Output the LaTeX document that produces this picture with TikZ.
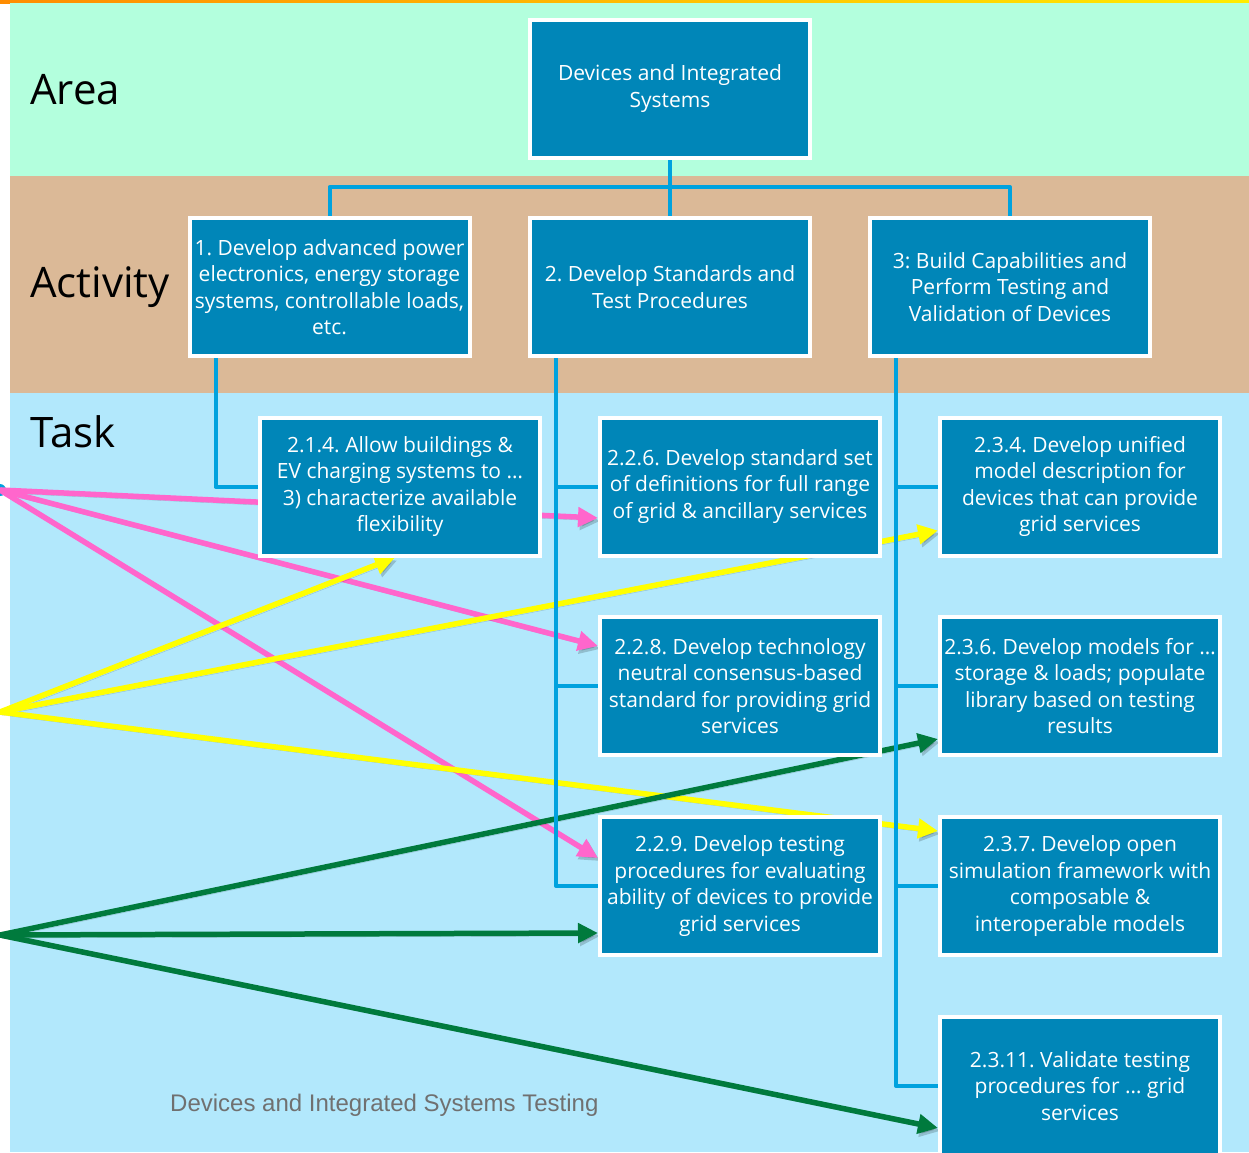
\documentclass[tikz,border=0pt]{standalone}
\usepackage{fontspec}
\setmainfont{Open Sans}
\newfontfamily\footfont{Liberation Sans}
\usetikzlibrary{arrows.meta,calc}
\frenchspacing
\pgfdeclarelayer{bglayer}
\pgfdeclarelayer{arrlayer}
\pgfdeclarelayer{connlayer}
\pgfsetlayers{bglayer,arrlayer,connlayer,main}
\definecolor{boxblue}{RGB}{0,134,184}
\definecolor{connblue}{RGB}{0,162,222}
\definecolor{areabg}{RGB}{179,255,221}
\definecolor{actbg}{RGB}{219,185,151}
\definecolor{taskbg}{RGB}{178,232,252}
\definecolor{pinkarr}{RGB}{255,102,204}
\definecolor{yelarr}{RGB}{255,255,0}
\definecolor{grnarr}{RGB}{0,122,61}
\definecolor{footgray}{RGB}{112,112,112}
\begin{document}
\begin{tikzpicture}[x=1pt,y=-1pt,
  box/.style={draw=white,line width=4pt,fill=boxblue,minimum width=280pt,minimum height=138pt,
    inner sep=0pt,text=white,align=center,font=\fontsize{21}{26.5}\selectfont},
  conn/.style={draw=connblue,line width=4pt,line join=round},
  arr/.style={line width=5.5pt,-{Triangle[length=20pt,width=19pt]},
    preaction={draw=black,opacity=.18,transform canvas={xshift=2pt,yshift=-3pt}}},
  band/.style={font=\fontsize{42}{50}\selectfont,anchor=west,inner sep=0pt}]
\useasboundingbox (0,0) rectangle (1249,1152);
\clip (0,0) rectangle (1249,1152);

% boxes
\node[box] (top) at (670,88.5) {Devices and Integrated\\Systems};
\node[box] (a1) at (329.5,287) {1. Develop advanced power\\electronics, energy storage\\systems, controllable loads,\\etc.};
\node[box] (a2) at (670,287) {2. Develop Standards and\\Test Procedures};
\node[box] (a3) at (1010,287) {3: Build Capabilities and\\Perform Testing and\\Validation of Devices};
\node[box] (t214) at (400,486.5) {2.1.4. Allow buildings \&\\EV charging systems to …\\3) characterize available\\flexibility};
\node[box] (t226) at (740,486.5) {2.2.6. Develop standard set\\of definitions for full range\\of grid \& ancillary services};
\node[box] (t234) at (1080,486.5) {2.3.4. Develop unified\\model description for\\devices that can provide\\grid services};
\node[box] (t228) at (740,686) {2.2.8. Develop technology\\neutral consensus-based\\standard for providing grid\\services};
\node[box] (t236) at (1080,686) {2.3.6. Develop models for …\\storage \& loads; populate\\library based on testing\\results};
\node[box] (t229) at (740,886) {2.2.9. Develop testing\\procedures for evaluating\\ability of devices to provide\\grid services};
\node[box] (t237) at (1080,886) {2.3.7. Develop open\\simulation framework with\\composable \&\\interoperable models};
\node[box] (t2311) at (1080,1086) {2.3.11. Validate testing\\procedures for … grid\\services};

\begin{pgfonlayer}{bglayer}
\fill[white] (0,0) rectangle (1249,1152);
\shade[left color=orange!90!yellow,right color=yellow!85!orange] (0,0) rectangle (1249,3);
\fill[areabg] (10,3) rectangle (1249,176);
\fill[actbg] (10,176) rectangle (1249,393);
\fill[taskbg] (10,393) rectangle (1249,1152);
\fill[connblue] (0,490) circle (6);
\node[band] (lArea) at (30,90) {Area};
\node[band] (lAct) at (30,287) {Activity};
\node[band] (lTask) at (30,432) {Task};
\node[anchor=west,inner sep=0pt,text=footgray,font=\footfont\fontsize{24}{28}\selectfont] (foot) at (170,1105) {Devices and Integrated Systems Testing};
\end{pgfonlayer}

\coordinate (pk) at (0,490);
\coordinate (yl) at (0,712);
\coordinate (gr) at (0,935);

\begin{pgfonlayer}{arrlayer}
\draw[arr,pinkarr] (pk) -- ($(t226.west)+(0,31.5)$);
\draw[arr,pinkarr] (pk) -- ($(t228.west)+(0,-40)$);
\draw[arr,pinkarr] (pk) -- ($(t229.west)+(0,-28)$);
\draw[arr,yelarr] (yl) -- ($(t214.south)+(-5,0)$);
\draw[arr,yelarr] (yl) -- ($(t234.west)+(0,44)$);
\draw[arr,yelarr] (yl) -- ($(t237.west)+(0,-55)$);
\draw[arr,grnarr] (gr) -- ($(t236.west)+(0,53)$);
\draw[arr,grnarr] (gr) -- ($(t229.west)+(0,47)$);
\draw[arr,grnarr] (gr) -- ($(t2311.west)+(0,42)$);
\end{pgfonlayer}

\begin{pgfonlayer}{connlayer}
\coordinate (bus) at (670,187);
\draw[conn] (top.south) -- (bus);
\draw[conn] (a1.north) |- (bus) -| (a3.north);
\draw[conn] (bus) -- (a2.north);
\draw[conn] ($(a1.south west)+(28,0)$) |- (t214.west);
\coordinate (s2) at ($(a2.south west)+(28,0)$);
\draw[conn] (s2) |- (t229.west);
\draw[conn] (s2) |- (t226.west);
\draw[conn] (s2) |- (t228.west);
\coordinate (s3) at ($(a3.south west)+(28,0)$);
\draw[conn] (s3) |- (t2311.west);
\draw[conn] (s3) |- (t234.west);
\draw[conn] (s3) |- (t236.west);
\draw[conn] (s3) |- (t237.west);
\end{pgfonlayer}
\end{tikzpicture}
\end{document}
